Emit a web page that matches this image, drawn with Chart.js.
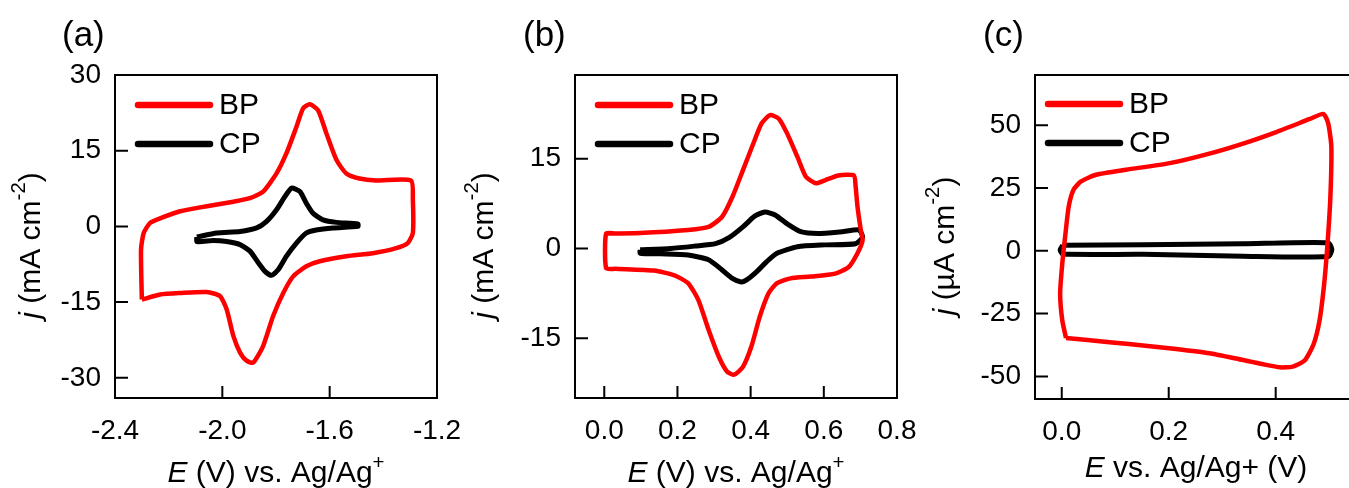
<!DOCTYPE html>
<html>
<head>
<meta charset="utf-8">
<script src="https://cdn.jsdelivr.net/npm/chart.js@4.4.0/dist/chart.umd.min.js"></script>
<style>
  html, body { margin: 0; padding: 0; background: #fff; overflow: hidden; }
  body { width: 1349px; height: 488px; position: relative; }
  canvas { position: absolute; top: 0; }
</style>
</head>
<body>
<canvas id="chartA" width="480" height="488" style="left:0px"></canvas>
<canvas id="chartB" width="480" height="488" style="left:460px"></canvas>
<canvas id="chartC" width="460" height="488" style="left:910px"></canvas>
<script>
// ---- data ----
// (a) E in V vs Ag/Ag+, j in mA cm-2
const aBpE = [-2.300, -2.303, -2.293, -2.269, -2.232, -2.157, -2.058, -1.959, -1.897, -1.848, -1.798, -1.761, -1.724, -1.699, -1.674, -1.643, -1.612, -1.575, -1.538, -1.489, -1.427, -1.297, -1.290, -1.290, -1.309, -1.352, -1.439, -1.538, -1.637, -1.687, -1.736, -1.773, -1.811, -1.848, -1.885, -1.910, -1.934, -1.959, -1.984, -2.009, -2.058, -2.157, -2.232, -2.300];
const aBpJ = [-14.5, -4.6, -1.3, 0.7, 1.6, 3.0, 4.0, 4.9, 5.6, 6.9, 10.5, 14.5, 19.7, 23.4, 24.2, 23.0, 18.4, 13.2, 10.5, 9.5, 9.1, 9.1, 5.3, -1.3, -3.3, -4.3, -5.3, -5.9, -6.9, -7.9, -9.9, -13.2, -17.8, -23.7, -27.0, -26.6, -25.0, -21.7, -16.4, -13.8, -13.0, -13.2, -13.5, -14.5];
const aCpE = [-2.095, -2.021, -1.934, -1.872, -1.835, -1.798, -1.767, -1.742, -1.711, -1.687, -1.662, -1.625, -1.575, -1.495, -1.495, -1.588, -1.650, -1.687, -1.724, -1.761, -1.792, -1.817, -1.841, -1.866, -1.897, -1.934, -1.984, -2.033, -2.095, -2.095];
const aCpJ = [-2.1, -1.3, -1.0, -0.3, 1.0, 3.3, 5.9, 7.6, 6.9, 4.6, 2.6, 1.3, 0.8, 0.5, 0.0, -0.3, -0.7, -1.3, -3.3, -5.9, -8.6, -9.7, -8.9, -7.2, -4.9, -3.6, -3.0, -2.8, -3.0, -2.1];

// (b) E in V vs Ag/Ag+, j in mA cm-2
const bBpE = [0.005, 0.098, 0.229, 0.285, 0.322, 0.350, 0.379, 0.407, 0.430, 0.453, 0.477, 0.500, 0.528, 0.551, 0.579, 0.603, 0.640, 0.682, 0.687, 0.692, 0.701, 0.706, 0.692, 0.668, 0.631, 0.565, 0.509, 0.472, 0.449, 0.425, 0.402, 0.379, 0.355, 0.336, 0.313, 0.285, 0.257, 0.229, 0.192, 0.136, 0.030, 0.005, 0.005, 0.030];
const bBpJ = [2.5, 2.6, 3.1, 3.6, 5.3, 8.6, 13.1, 17.5, 20.9, 22.3, 21.7, 19.2, 15.3, 12.0, 10.9, 11.4, 12.2, 12.2, 10.3, 7.0, 3.1, 1.4, -0.8, -3.1, -4.2, -4.7, -5.0, -5.8, -7.5, -11.4, -16.4, -19.8, -21.1, -20.6, -18.1, -13.6, -8.6, -5.8, -4.5, -3.7, -3.4, -3.3, 2.5, 2.5];
const bCpE = [0.098, 0.182, 0.248, 0.304, 0.341, 0.379, 0.411, 0.439, 0.467, 0.500, 0.537, 0.584, 0.650, 0.696, 0.706, 0.687, 0.603, 0.528, 0.472, 0.444, 0.416, 0.388, 0.374, 0.350, 0.322, 0.285, 0.229, 0.154, 0.098, 0.098];
const bCpJ = [-0.2, 0.0, 0.4, 0.8, 1.8, 3.6, 5.4, 6.1, 5.6, 4.1, 2.8, 2.5, 2.8, 3.1, 1.9, 0.8, 0.6, 0.3, -0.8, -2.2, -3.9, -5.3, -5.6, -5.0, -3.6, -1.9, -1.1, -0.9, -0.8, -0.2];

// (c) E in V vs Ag/Ag+, j in uA cm-2
const cBpE = [0.008, 0.001, -0.003, 0.001, 0.007, 0.013, 0.022, 0.036, 0.064, 0.120, 0.202, 0.276, 0.339, 0.401, 0.464, 0.489, 0.498, 0.504, 0.502, 0.496, 0.490, 0.482, 0.471, 0.454, 0.432, 0.407, 0.339, 0.276, 0.214, 0.152, 0.089, 0.008];
const cBpJ = [-34.7, -27.7, -17.1, -5.1, 6.9, 17.6, 24.3, 27.6, 30.3, 32.3, 34.9, 38.7, 42.7, 47.3, 52.5, 54.5, 50.9, 41.6, 20.3, 0.3, -14.4, -27.7, -37.1, -43.7, -46.1, -46.4, -43.5, -40.8, -39.1, -37.7, -36.4, -34.7];
const cCpE = [0.002, 0.152, 0.339, 0.498, 0.505, 0.498, 0.339, 0.152, 0.002, -0.003, 0.002];
const cCpJ = [2.2, 2.4, 2.8, 3.2, 0.5, -2.3, -2.2, -1.4, -1.3, 0.4, 2.2];

const seriesNames = ["BP", "CP"];
const seriesColors = ["#ff0000", "#000000"];

// axis ranges and tick steps
const aXRange = [-2.4, -1.2], aXStep = 0.4, aYRange = [-34, 30], aYStep = 15;
const bXRange = [-0.08, 0.8], bXStep = 0.2, bYRange = [-25, 29], bYStep = 15;
const cXRange = [-0.05, 0.552], cXStep = 0.2, cYRange = [-59, 70], cYStep = 25;

const FONT = '"Liberation Sans", Arial, Helvetica, sans-serif';
Chart.defaults.font.family = FONT;
Chart.defaults.color = "#000";

function toPoints(xs, ys) {
  return xs.map((x, i) => ({ x: x, y: ys[i] }));
}

// draws a run of text pieces (italic / superscript) starting at x
function drawParts(ctx, parts, x, y, size) {
  parts.forEach(p => {
    const s = p.sup ? size * 0.68 : size;
    ctx.font = (p.italic ? "italic " : "") + s + "px " + FONT;
    ctx.fillText(p.t, x, p.sup ? y - size * 0.42 : y);
    x += ctx.measureText(p.t).width;
  });
}
function partsWidth(ctx, parts, size) {
  let w = 0;
  parts.forEach(p => {
    const s = p.sup ? size * 0.68 : size;
    ctx.font = (p.italic ? "italic " : "") + s + "px " + FONT;
    w += ctx.measureText(p.t).width;
  });
  return w;
}

const decorPlugin = {
  id: "decor",
  afterDatasetsDraw(chart, args, o) {
    const { ctx, chartArea: a, scales } = chart;
    const x = scales.x, y = scales.y;
    ctx.save();
    // frame + inward ticks
    ctx.strokeStyle = "#000";
    ctx.lineWidth = 2;
    ctx.strokeRect(a.left, a.top, a.width, a.height);
    ctx.beginPath();
    x.ticks.forEach(t => {
      const px = x.getPixelForValue(t.value);
      if (px > a.left + 3 && px < a.right - 3) { ctx.moveTo(px, a.bottom); ctx.lineTo(px, a.bottom - 12); }
    });
    y.ticks.forEach(t => {
      const py = y.getPixelForValue(t.value);
      if (py > a.top + 3 && py < a.bottom - 3) { ctx.moveTo(a.left, py); ctx.lineTo(a.left + 13, py); }
    });
    ctx.stroke();

    // legend inside the plot
    ctx.lineCap = "round";
    ctx.textBaseline = "middle";
    ctx.textAlign = "left";
    chart.data.datasets.forEach((ds, i) => {
      const ly = a.top + o.legendTop + i * 39;
      ctx.strokeStyle = ds.borderColor;
      ctx.lineWidth = 6.5;
      ctx.beginPath();
      ctx.moveTo(a.left + o.legendLeft, ly);
      ctx.lineTo(a.left + o.legendLeft + 72, ly);
      ctx.stroke();
      ctx.fillStyle = "#000";
      ctx.font = "30px " + FONT;
      ctx.fillText(ds.label, a.left + o.legendLeft + 81, ly + 1);
    });

    // panel letter
    ctx.textBaseline = "alphabetic";
    ctx.font = "35px " + FONT;
    ctx.fillText(o.letter, o.letterX, 46);

    // x title
    const xw = partsWidth(ctx, o.xTitle, 30);
    drawParts(ctx, o.xTitle, (a.left + a.right) / 2 - xw / 2, a.bottom + o.xTitleDy, 30);

    // y title, rotated
    const yw = partsWidth(ctx, o.yTitle, 30);
    ctx.translate(a.left - o.yTitleDx, (a.top + a.bottom) / 2 + 9);
    ctx.rotate(-Math.PI / 2);
    ctx.textBaseline = "middle";
    drawParts(ctx, o.yTitle, -yw / 2, 0, 30);
    ctx.restore();
  }
};

function makeChart(id, bp, cp, xr, xs, yr, ys, box, decor) {
  return new Chart(document.getElementById(id), {
    type: "scatter",
    data: {
      datasets: [bp, cp].map((pts, i) => ({
        label: seriesNames[i],
        data: pts,
        showLine: true,
        borderColor: seriesColors[i],
        backgroundColor: seriesColors[i],
        borderWidth: i === 0 ? 4.5 : 5,
        pointRadius: 0,
        tension: 0.2,
        borderJoinStyle: "round"
      }))
    },
    options: {
      responsive: false,
      animation: false,
      events: [],
      layout: { padding: { left: 0, top: 75, right: box.right, bottom: 0 } },
      plugins: { legend: { display: false }, tooltip: { enabled: false }, decor: decor },
      scales: {
        x: {
          type: "linear", min: xr[0], max: xr[1],
          grid: { display: false, drawTicks: false },
          border: { display: false },
          ticks: { stepSize: xs, includeBounds: false, padding: 16, maxRotation: 0,
                   font: { size: 28 }, color: "#000",
                   callback: v => v.toFixed(1) },
          afterFit: s => { s.height = box.xh; }
        },
        y: {
          type: "linear", min: yr[0], max: yr[1],
          grid: { display: false, drawTicks: false },
          border: { display: false },
          ticks: { stepSize: ys, includeBounds: false, padding: 14,
                   font: { size: 28 }, color: "#000" },
          afterFit: s => { s.width = box.yw; }
        }
      }
    },
    plugins: [decorPlugin]
  });
}

const eTitle = [{ t: "E", italic: true }, { t: " (V) vs. Ag/Ag" }, { t: "+", sup: true }];
const jmA = [{ t: "j", italic: true }, { t: " (mA cm" }, { t: "-2", sup: true }, { t: ")" }];
const juA = [{ t: "j", italic: true }, { t: " (\u00b5A cm" }, { t: "-2", sup: true }, { t: ")" }];

makeChart("chartA", toPoints(aBpE, aBpJ), toPoints(aCpE, aCpJ), aXRange, aXStep, aYRange, aYStep,
  { right: 43, yw: 115, xh: 90 },
  { letter: "(a)", letterX: 62, legendLeft: 23, legendTop: 30, xTitle: eTitle, xTitleDy: 84, yTitle: jmA, yTitleDx: 83 });
makeChart("chartB", toPoints(bBpE, bBpJ), toPoints(bCpE, bCpJ), bXRange, bXStep, bYRange, bYStep,
  { right: 43, yw: 115, xh: 90 },
  { letter: "(b)", letterX: 63, legendLeft: 23, legendTop: 30, xTitle: eTitle, xTitleDy: 84, yTitle: jmA, yTitleDx: 90 });
makeChart("chartC", toPoints(cBpE, cBpJ), toPoints(cCpE, cCpJ), cXRange, cXStep, cYRange, cYStep,
  { right: 13, yw: 125, xh: 89 },
  { letter: "(c)", letterX: 73, legendLeft: 13, legendTop: 29, xTitle: [{ t: "E", italic: true }, { t: " vs. Ag/Ag+ (V)" }], xTitleDy: 78, yTitle: juA, yTitleDx: 89 });
</script>
</body>
</html>
